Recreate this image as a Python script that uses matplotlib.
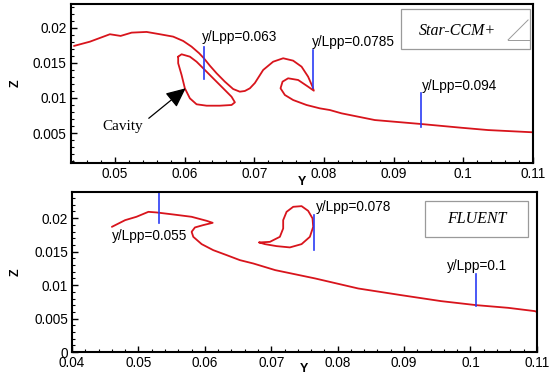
import matplotlib.pyplot as plt
from matplotlib.patches import Rectangle
from matplotlib.ticker import AutoMinorLocator, MultipleLocator

# Star-CCM+ free surface profile (one continuous line)
star_y = [0.04412, 0.04641, 0.04928, 0.05082, 0.0524, 0.05455, 0.05646, 0.05836, 0.0598,
          0.0610, 0.0621, 0.06277, 0.06363, 0.06459, 0.06578, 0.06697, 0.06793, 0.06865,
          0.06937, 0.07009, 0.07128, 0.07271, 0.07415, 0.07558, 0.07679, 0.07773, 0.07836,
          0.07855, 0.07773, 0.0763, 0.07486, 0.07406, 0.07377, 0.07439, 0.07558, 0.0775,
          0.07941, 0.08085, 0.08252, 0.0873, 0.0940, 0.09974, 0.10356, 0.11001]
star_z = [0.01743, 0.01804, 0.0191, 0.01886, 0.01933, 0.01943, 0.0191, 0.01876, 0.01814,
          0.01733, 0.01638, 0.01567, 0.01461, 0.01353, 0.01233, 0.01128, 0.0109, 0.0110,
          0.01138, 0.01214, 0.0140, 0.01518, 0.01567, 0.01533, 0.01447, 0.01304, 0.01161,
          0.01104, 0.01161, 0.01257, 0.01281, 0.01233, 0.01138, 0.01043, 0.00971, 0.0090,
          0.00852, 0.00828, 0.00781, 0.00685, 0.00628, 0.00575, 0.00542, 0.0051]

# Star-CCM+ cavity loop
cav_y = [0.05908, 0.05957, 0.06076, 0.06172, 0.06267, 0.0641, 0.06554, 0.06674, 0.06722,
         0.06674, 0.06506, 0.06316, 0.06172, 0.06076, 0.06004, 0.05957, 0.05908, 0.05908]
cav_z = [0.0159, 0.01624, 0.0159, 0.01518, 0.01424, 0.01281, 0.01138, 0.01018, 0.00938,
         0.0090, 0.0089, 0.0089, 0.0091, 0.00995, 0.01138, 0.01328, 0.01496, 0.0159]

# FLUENT free surface profile
flu_y = [0.0460, 0.0480, 0.0497, 0.0515, 0.0527, 0.0552, 0.0580, 0.06027, 0.06118,
         0.05976, 0.05851, 0.05801, 0.05826, 0.05952, 0.06127, 0.06328, 0.06528, 0.0673,
         0.0706, 0.0766, 0.0831, 0.0896, 0.0956, 0.1009, 0.1057, 0.1097, 0.1100]
flu_z = [0.0187, 0.0197, 0.0202, 0.02094, 0.02085, 0.02055, 0.0202, 0.0196, 0.0193,
         0.01896, 0.01861, 0.01796, 0.01721, 0.01612, 0.01522, 0.01448, 0.01373, 0.01323,
         0.01224, 0.0110, 0.0095, 0.0085, 0.00761, 0.00701, 0.00661, 0.00612, 0.0060]

# FLUENT detached loop
loop_y = [0.06819, 0.0698, 0.0713, 0.0718, 0.0718, 0.07231, 0.07331, 0.07457, 0.07556,
          0.07622, 0.07632, 0.07582, 0.07457, 0.07281, 0.07081, 0.06905, 0.06819]
loop_z = [0.01637, 0.01646, 0.01721, 0.01846, 0.0197, 0.02094, 0.02169, 0.02179, 0.02109,
          0.01996, 0.0187, 0.01721, 0.01612, 0.01563, 0.01582, 0.01612, 0.01637]

# cut positions: (y, z_low, z_high, label, label_y, label_z)
star_cuts = [(0.06281, 0.01267, 0.01733, 'y/Lpp=0.063', 0.06248, 0.01876),
             (0.07836, 0.01139, 0.01686, 'y/Lpp=0.0785', 0.07822, 0.01804),
             (0.0940, 0.00590, 0.01067, 'y/Lpp=0.094', 0.0940, 0.01171)]
flu_cuts = [(0.0531, 0.0192, 0.0245, 'y/Lpp=0.055', 0.0460, 0.01736),
            (0.0765, 0.01522, 0.02045, 'y/Lpp=0.078', 0.0767, 0.02169),
            (0.1009, 0.00691, 0.0116, 'y/Lpp=0.1', 0.0964, 0.01284)]

RED = '#d8141c'
BLUE = '#2b3cf5'
FS = 9.8
plt.rcParams['font.family'] = ['Liberation Sans', 'DejaVu Sans']

fig = plt.figure(figsize=(5.5, 3.75), dpi=100)
ax1 = fig.add_axes([0.129, 0.565, 0.84, 0.424])
ax2 = fig.add_axes([0.131, 0.061, 0.845, 0.427])


def style(ax):
    for side in ['left', 'bottom', 'right', 'top']:
        ax.spines[side].set_linewidth(1.5)
    ax.xaxis.set_major_locator(MultipleLocator(0.01))
    ax.yaxis.set_major_locator(MultipleLocator(0.005))
    ax.xaxis.set_minor_locator(AutoMinorLocator(5))
    ax.yaxis.set_minor_locator(AutoMinorLocator(5))
    ax.tick_params(which='both', direction='in', top=False, right=False,
                   labelsize=FS, pad=3)
    ax.tick_params(which='major', length=4, width=1)
    ax.tick_params(which='minor', length=2, width=0.8)
    ax.set_xlabel('Y', fontweight='bold', fontsize=9)
    ax.set_ylabel('Z', fontweight='bold', fontsize=9)
    ax.xaxis.set_major_formatter(lambda v, p: ('%g' % round(v, 4)))
    ax.yaxis.set_major_formatter(lambda v, p: ('%g' % round(v, 4)))


line_kw = dict(color=RED, lw=1.3, solid_joinstyle='round', solid_capstyle='round')

# top panel: Star-CCM+
ax1.plot(star_y, star_z, **line_kw)
ax1.plot(cav_y, cav_z, **line_kw)
for y, z0, z1, lab, ly, lz in star_cuts:
    ax1.plot([y, y], [z0, z1], color=BLUE, lw=1.2)
    ax1.text(ly, lz, lab, fontsize=FS, va='center', ha='left')
ax1.annotate('', xy=(0.06047, 0.01164), xytext=(0.05455, 0.00685),
             arrowprops=dict(arrowstyle='-|>,head_length=1.2,head_width=0.55',
                             color='black', lw=0.9))
ax1.text(0.05115, 0.0060, 'Cavity', family='Liberation Serif', fontsize=11,
         ha='center', va='center')
ax1.set_xlim(0.04369, 0.11)
ax1.set_ylim(0.0007, 0.0234)
style(ax1)
ax1.xaxis.set_label_coords(0.5, -0.08)
ax1.yaxis.set_label_coords(-0.107, 0.5)

ax1.add_patch(Rectangle((0.09103, 0.01696), 0.01851, 0.00571, transform=ax1.transData,
                        facecolor='white', edgecolor='#9a9a9a', lw=0.9))
ax1.plot([0.10643, 0.1093], [0.01829, 0.02114], color='#9a9a9a', lw=0.7)
ax1.plot([0.10643, 0.10954], [0.01829, 0.01829], color='#9a9a9a', lw=0.7)
ax1.text(0.09917, 0.01961, 'Star-CCM+', family='Liberation Serif', style='italic',
         fontsize=11.5, ha='center', va='center')

# bottom panel: FLUENT
ax2.plot(flu_y, flu_z, **line_kw)
ax2.plot(loop_y, loop_z, **line_kw)
for y, z0, z1, lab, ly, lz in flu_cuts:
    ax2.plot([y, y], [z0, z1], color=BLUE, lw=1.2)
    ax2.text(ly, lz, lab, fontsize=FS, va='center', ha='left')
ax2.set_xlim(0.04, 0.11)
ax2.set_ylim(0, 0.0239)
style(ax2)
ax2.xaxis.set_label_coords(0.5, -0.07)
ax2.yaxis.set_label_coords(-0.109, 0.5)

ax2.add_patch(Rectangle((0.0932, 0.0172), 0.0155, 0.0054, transform=ax2.transData,
                        facecolor='white', edgecolor='#9a9a9a', lw=0.9))
ax2.text(0.1010, 0.0199, 'FLUENT', family='Liberation Serif', style='italic',
         fontsize=11.5, ha='center', va='center')

fig.savefig('out.png', dpi=100)
